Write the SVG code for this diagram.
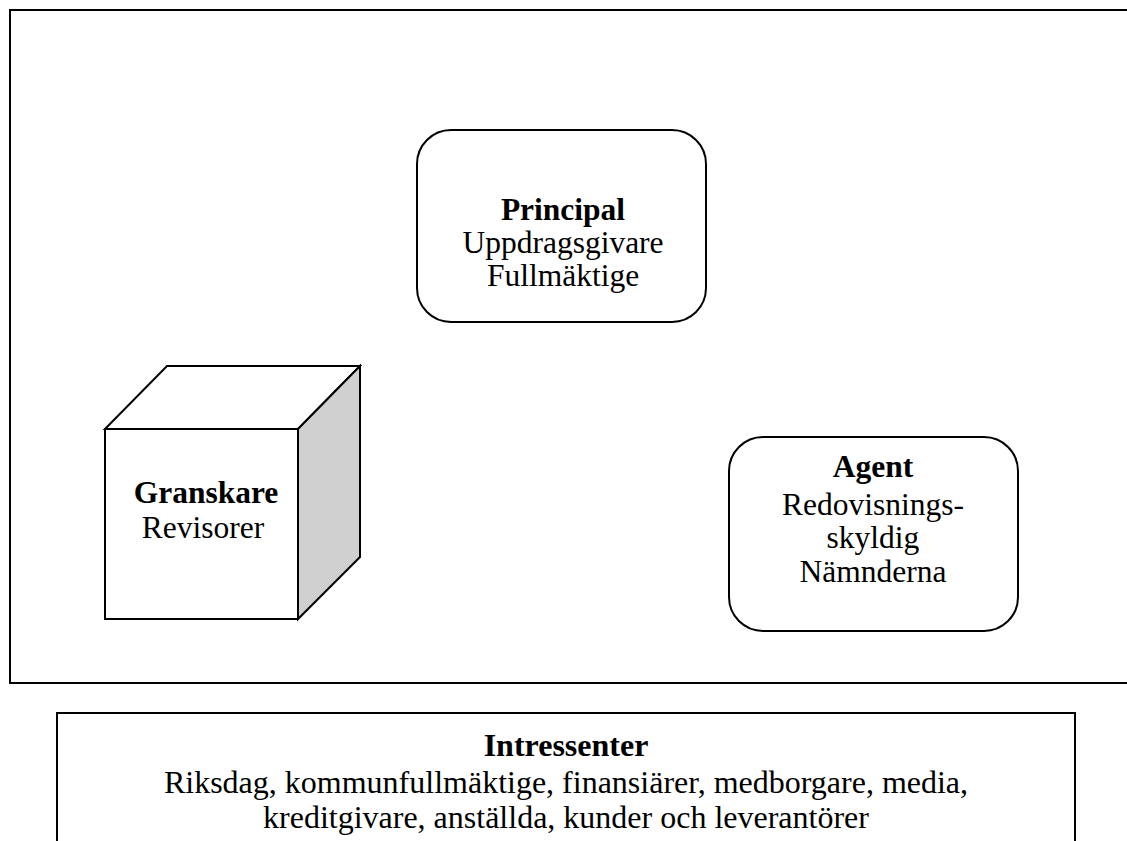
<svg xmlns="http://www.w3.org/2000/svg" width="1127" height="841" viewBox="0 0 1127 841">
<style>
  .ln { fill: #fff; stroke: #000; stroke-width: 2; }
  .t { font-family: "Liberation Serif", "Times New Roman", serif; font-size: 31.5px; fill: #000; text-anchor: middle; }
  .big { font-size: 32px; }
  .b { font-weight: bold; }
</style>
<rect width="1127" height="841" fill="#fff"/>
<g id="frame">
  <rect class="ln" x="10" y="10" width="1125" height="673"/>
</g>
<g id="principal">
  <rect class="ln" x="417" y="130" width="289" height="192" rx="34" ry="34"/>
  <text class="t b" x="563" y="220">Principal</text>
  <text class="t" x="563" y="253">Uppdragsgivare</text>
  <text class="t" x="563" y="286">Fullmäktige</text>
</g>
<g id="granskare">
  <polygon class="ln" points="105,429 167,366 360,366 298,429"/>
  <polygon class="ln" points="298,429 360,366 360,557 298,619" style="fill:#d0d0d0"/>
  <rect class="ln" x="105" y="429" width="193" height="190"/>
  <text class="t b" x="206" y="503">Granskare</text>
  <text class="t" x="203" y="538">Revisorer</text>
</g>
<g id="agent">
  <rect class="ln" x="729" y="437" width="289" height="194" rx="34" ry="34"/>
  <text class="t b" x="873" y="477">Agent</text>
  <text class="t" x="873" y="515">Redovisnings-</text>
  <text class="t" x="873" y="548">skyldig</text>
  <text class="t" x="873" y="582">Nämnderna</text>
</g>
<g id="intressenter">
  <rect class="ln" x="57" y="713" width="1018" height="160"/>
  <text class="t big b" x="566" y="756">Intressenter</text>
  <text class="t big" x="566" y="793">Riksdag, kommunfullmäktige, finansiärer, medborgare, media,</text>
  <text class="t big" x="566" y="828">kreditgivare, anställda, kunder och leverantörer</text>
</g>
<g id="connectors"></g>
</svg>
